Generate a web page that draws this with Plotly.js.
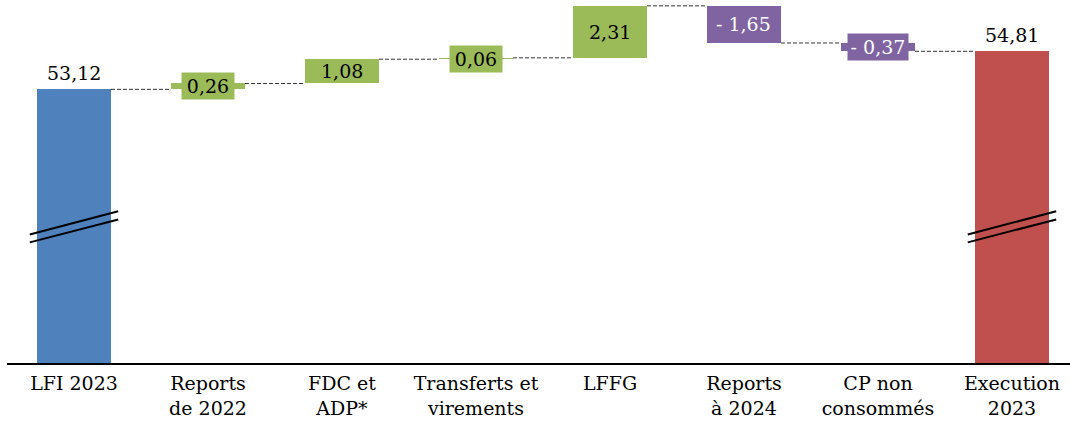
<!DOCTYPE html>
<html><head><meta charset="utf-8">
<script src="https://cdn.plot.ly/plotly-3.0.1.min.js"></script>
<style>html,body{margin:0;padding:0;background:#fff}#chart{width:1070px;height:432px}</style>
</head><body><div id="chart"></div>
<script>
const categories = ["LFI 2023","Reports<br>de 2022","FDC et<br>ADP*","Transferts et<br>virements","LFFG","Reports<br>à 2024","CP non<br>consommés","Execution<br>2023"];
const values = [53.12, 0.26, 1.08, 0.06, 2.31, -1.65, -0.37, 54.81];
const measures = ["total","relative","relative","relative","relative","relative","relative","total"];

const FONT = "DejaVu Serif";
const BLUE = "#4F81BD", GREEN = "#9BBB59", PURPLE = "#8064A2", RED = "#C0504D";
const W = 0.552;

const xs = categories.map((_, i) => i);
let run = 0;
const bases = [], heights = [], ends = [];
values.forEach((v, i) => {
  if (measures[i] === "total") { bases.push(0); heights.push(v); run = v; }
  else { bases.push(run); heights.push(v); run += v; }
  ends.push(run);
});
const colors = values.map((v, i) => {
  if (measures[i] === "total") return i === 0 ? BLUE : RED;
  return v >= 0 ? GREEN : PURPLE;
});
const fmt = v => (v < 0 ? "- " + Math.abs(v).toFixed(2) : v.toFixed(2)).replace(".", ",");

const cx = [], cy = [];
for (let i = 0; i < xs.length - 1; i++) {
  cx.push(xs[i] + W / 2, xs[i + 1] - W / 2, null);
  cy.push(ends[i], ends[i], null);
}

const traces = [
  { type: "bar", x: xs, y: heights, base: bases, width: W,
    marker: { color: colors }, hoverinfo: "skip" },
  { type: "scatter", mode: "lines", x: cx, y: cy,
    line: { color: "#333333", width: 1, dash: "4px,2px" }, hoverinfo: "skip" }
];

const annotations = values.map((v, i) => {
  if (measures[i] === "total") {
    return { x: xs[i], y: v, xref: "x", yref: "y", text: fmt(v), showarrow: false,
      yanchor: "bottom", yshift: 3, font: { family: FONT, size: 19, color: "#000" } };
  }
  const small = Math.abs(v) < 0.5;
  const a = { x: xs[i], y: bases[i] + v / 2, xref: "x", yref: "y", text: fmt(v), showarrow: false,
    yanchor: "middle", font: { family: FONT, size: 19, color: v < 0 ? "#fff" : "#000" } };
  if (small) { a.bgcolor = colors[i]; a.width = v < 0 ? 58 : 50; a.height = 24; a.borderpad = 1; }
  return a;
});

const shapes = [];
[0, xs.length - 1].forEach(i => {
  shapes.push({ type: "line", xref: "x", yref: "y", x0: i - 0.33, x1: i + 0.33, y0: 46.67, y1: 47.70,
    line: { color: "#000", width: 2 } });
  shapes.push({ type: "line", xref: "x", yref: "y", x0: i - 0.33, x1: i + 0.33, y0: 46.32, y1: 47.34,
    line: { color: "#000", width: 2 } });
});

const layout = {
  width: 1070, height: 432,
  margin: { l: 7, r: 0, t: 0, b: 69 },
  paper_bgcolor: "#fff", plot_bgcolor: "#fff",
  showlegend: false,
  bargap: 0,
  xaxis: { range: [-0.5, 7.433], tickmode: "array", tickvals: xs, ticktext: categories,
    showline: true, linecolor: "#000", linewidth: 1.5, showgrid: false, zeroline: false,
    ticks: "outside", ticklen: 3, tickcolor: "rgba(0,0,0,0)",
    tickfont: { family: FONT, size: 19, color: "#000" } },
  yaxis: { range: [40.96, 57.09], visible: false, showgrid: false, zeroline: false },
  annotations, shapes
};

Plotly.newPlot("chart", traces, layout, { displayModeBar: false, staticPlot: true });
</script>
</body></html>
